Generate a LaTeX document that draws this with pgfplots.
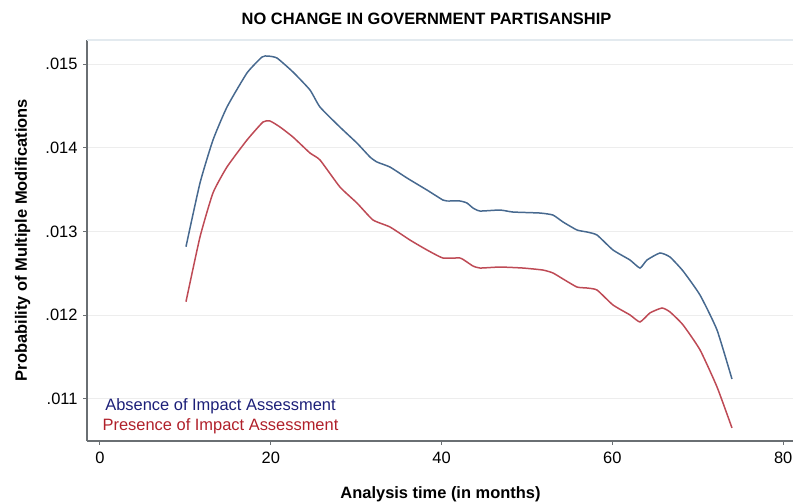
\documentclass[border=0pt]{standalone}
\usepackage{pgfplots}
\pgfplotsset{compat=1.18}
\usepackage{fontspec}
\setmainfont{Liberation Sans}

\definecolor{lineblue}{HTML}{47698F}
\definecolor{linered}{HTML}{BE4A55}
\definecolor{txtblue}{HTML}{1C1F78}
\definecolor{txtred}{HTML}{B0202A}
\definecolor{axisgrey}{HTML}{6A6F73}
\definecolor{gridgrey}{HTML}{EDEDED}
\definecolor{topline}{HTML}{E3EAEF}

\newcommand{\chartfont}{\fontsize{16.5}{19}\selectfont}

\begin{document}
\begin{tikzpicture}
\useasboundingbox (-87bp,-61bp) rectangle (708bp,441bp);
\begin{axis}[
  scale only axis,
  width=706bp, height=401bp,
  xmin=-1.52, xmax=81.15,
  ymin=0.010494, ymax=0.015291,
  axis x line*=bottom,
  axis y line*=left,
  axis line style={axisgrey, line width=1.1pt},
  xtick={0,20,40,60,80},
  ytick={0.011,0.012,0.013,0.014,0.015},
  yticklabels={.011,.012,.013,.014,.015},
  scaled y ticks=false,
  tick style={axisgrey, line width=1pt},
  tick align=outside,
  major tick length=4bp,
  ticklabel style={font=\chartfont, text=black},
  /pgf/number format/assume math mode=true,
  xticklabel style={yshift=-4bp},
  yticklabel style={xshift=-2bp},
  ymajorgrids,
  grid style={gridgrey, line width=1pt},
  clip=false,
]
% upper boundary of the plot region
\draw[topline, line width=1.2pt] (rel axis cs:0,1) -- (rel axis cs:1,1);

% absence of impact assessment
\addplot[lineblue, line width=1.5pt, smooth, tension=0.3] coordinates {
(10.07,0.012818) (11.71,0.013580) (13.23,0.014094) (14.87,0.014489)
(17.21,0.014896) (18.97,0.015087) (19.67,0.015099) (20.73,0.015075)
(22.60,0.014908) (24.59,0.014693) (25.76,0.014489) (28.10,0.014249)
(30.09,0.014058) (31.62,0.013891) (32.44,0.013831) (33.96,0.013771)
(35.95,0.013640) (38.29,0.013496) (40.16,0.013376) (40.63,0.013365)
(42.15,0.013365) (42.97,0.013341) (43.68,0.013281) (44.50,0.013245)
(46.84,0.013257) (48.36,0.013233) (51.52,0.013221) (53.04,0.013197)
(54.22,0.013114) (55.85,0.013018) (57.03,0.012994) (58.20,0.012958)
(60.07,0.012779) (62.06,0.012659) (63.23,0.012563) (64.05,0.012659)
(65.57,0.012743) (66.74,0.012695) (68.27,0.012528) (70.26,0.012240)
(72.25,0.011822) (74.00,0.011236)
};

% presence of impact assessment
\addplot[linered, line width=1.5pt, smooth, tension=0.3] coordinates {
(10.07,0.012160) (11.71,0.012934) (13.23,0.013461) (14.87,0.013772)
(17.21,0.014094) (19.09,0.014310) (19.91,0.014322) (21.08,0.014250)
(22.60,0.014130) (24.59,0.013939) (25.76,0.013856) (28.10,0.013532)
(30.09,0.013341) (31.97,0.013138) (33.96,0.013054) (36.30,0.012898)
(38.29,0.012779) (40.16,0.012683) (42.15,0.012683) (42.97,0.012635)
(43.68,0.012587) (44.50,0.012563) (46.84,0.012575) (49.53,0.012563)
(51.87,0.012539) (53.04,0.012504) (54.22,0.012432) (55.85,0.012336)
(57.03,0.012324) (58.20,0.012300) (60.07,0.012121) (62.06,0.012002)
(63.23,0.011918) (64.40,0.012026) (65.81,0.012085) (66.74,0.012038)
(68.27,0.011883) (70.26,0.011584) (72.25,0.011141) (74.00,0.010651)
};
\end{axis}

% title, axis titles and series labels
\node[anchor=base, font=\chartfont\bfseries] at (339.5bp,416bp) {NO CHANGE IN GOVERNMENT PARTISANSHIP};
\node[anchor=base, font=\chartfont\bfseries] at (353.5bp,-57bp) {Analysis time (in months)};
\node[anchor=base, rotate=90, font=\chartfont\bfseries] at (-60bp,201bp) {Probability of Multiple Modifications};
\node[anchor=base, font=\chartfont, text=txtblue] at (133.5bp,31bp) {Absence of Impact Assessment};
\node[anchor=base, font=\chartfont, text=txtred] at (133.5bp,11bp) {Presence of Impact Assessment};
\end{tikzpicture}
\end{document}
